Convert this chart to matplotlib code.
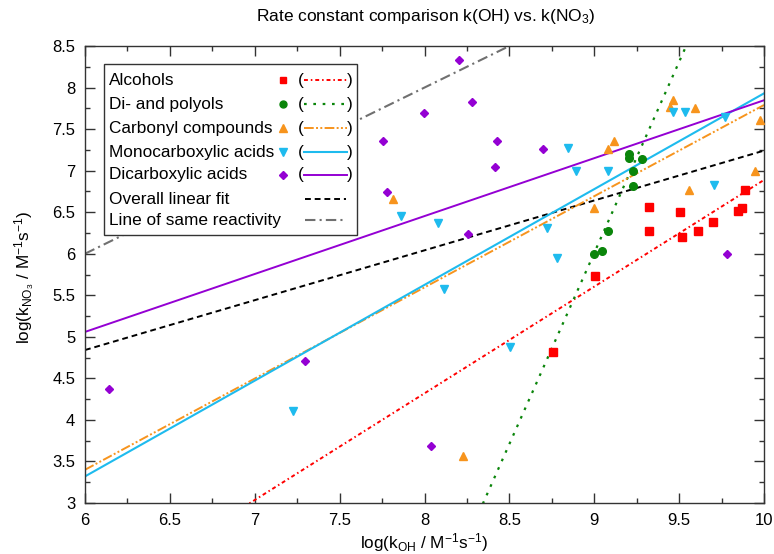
import numpy as np
import matplotlib
matplotlib.use('Agg')
import matplotlib.pyplot as plt
from matplotlib.lines import Line2D
from matplotlib.patches import Rectangle

plt.rcParams['font.family'] = ['Liberation Sans', 'DejaVu Sans']
plt.rcParams['mathtext.default'] = 'regular'
plt.rcParams['font.size'] = 12

# data: log10 k(OH) vs log10 k(NO3)
alc_x = [8.755, 9.004, 9.322, 9.322, 9.505, 9.517, 9.611, 9.700, 9.847, 9.870, 9.888]
alc_y = [4.814, 5.732, 6.563, 6.274, 6.502, 6.202, 6.274, 6.382, 6.514, 6.550, 6.767]

pol_x = [9.000, 9.044, 9.079, 9.230, 9.230, 9.205, 9.205, 9.280]
pol_y = [5.997, 6.037, 6.274, 6.819, 6.996, 7.156, 7.197, 7.137]

car_x = [8.229, 7.816, 9.000, 9.079, 9.115, 9.448, 9.462, 9.592, 9.556, 9.949, 9.976]
car_y = [3.570, 6.659, 6.554, 7.261, 7.353, 7.770, 7.850, 7.758, 6.767, 6.996, 7.610]

mono_x = [7.227, 7.862, 8.078, 8.117, 8.504, 8.720, 8.779, 8.845, 8.891, 9.079,
          9.462, 9.533, 9.707, 9.770]
mono_y = [4.108, 6.458, 6.370, 5.572, 4.874, 6.314, 5.952, 7.273, 6.996, 6.996,
          7.702, 7.702, 6.831, 7.642]

dic_x = [6.143, 7.296, 7.754, 7.777, 7.999, 8.038, 8.201, 8.254, 8.278, 8.414,
         8.425, 8.700, 9.780]
dic_y = [4.376, 4.710, 7.360, 6.747, 7.690, 3.690, 8.332, 6.234, 7.830, 7.040,
         7.360, 7.257, 5.997]

# linear fits (slope, intercept)
fit_slope = {'alc': 1.284, 'pol': 4.60, 'car': 1.0975, 'mono': 1.1525, 'dic': 0.697,
             'all': 0.600, 'same': 1.0}
fit_icept = {'alc': -5.952, 'pol': -35.39, 'car': -3.185, 'mono': -3.595, 'dic': 0.877,
             'all': 1.241, 'same': 0.0}

labels = ['Alcohols', 'Di- and polyols', 'Carbonyl compounds', 'Monocarboxylic acids',
          'Dicarboxylic acids', 'Overall linear fit', 'Line of same reactivity']

red = '#ff0000'
green = '#0a850a'
orange = '#f7941d'
cyan = '#1ebbee'
purple = '#9400d3'
gray = '#707070'

styles = {
    'alc': dict(color=red, ls=(0, (2, 1.5, 0.8, 1.5)), lw=1.4),
    'pol': dict(color=green, ls=(0, (1.2, 3)), lw=1.6),
    'car': dict(color=orange, ls=(0, (5, 1.2, 1, 1.2, 1, 1.2)), lw=1.4),
    'mono': dict(color=cyan, ls='-', lw=1.5),
    'dic': dict(color=purple, ls='-', lw=1.4),
    'all': dict(color='black', ls=(0, (3, 2)), lw=1.4),
    'same': dict(color=gray, ls=(0, (5, 2, 1, 2)), lw=1.5),
}

W, H = 774, 554
fig = plt.figure(figsize=(W / 100, H / 100), dpi=100)
ax = fig.add_axes([85 / W, 1 - 503 / H, 679 / W, 457 / H])

xx = np.linspace(6, 10, 400)
for key in ['same', 'all', 'alc', 'pol', 'car', 'mono', 'dic']:
    ax.plot(xx, fit_slope[key] * xx + fit_icept[key], **styles[key], zorder=2)

ax.plot(alc_x, alc_y, 's', color=red, ms=5.5, ls='none', zorder=3)
ax.plot(pol_x, pol_y, 'o', color=green, ms=5.5, ls='none', zorder=3)
ax.plot(car_x, car_y, '^', color=orange, ms=6, ls='none', zorder=3)
ax.plot(mono_x, mono_y, 'v', color=cyan, ms=6, ls='none', zorder=3)
ax.plot(dic_x, dic_y, 'D', color=purple, ms=4.2, ls='none', zorder=3)

ax.set_xlim(6, 10)
ax.set_ylim(3, 8.5)
ax.set_xticks(np.arange(6, 10.01, 0.5))
ax.set_yticks(np.arange(3, 8.51, 0.5))
ax.set_xticklabels(['6', '6.5', '7', '7.5', '8', '8.5', '9', '9.5', '10'])
ax.set_yticklabels(['3', '3.5', '4', '4.5', '5', '5.5', '6', '6.5', '7', '7.5', '8', '8.5'])
ax.set_xticks(np.arange(6, 10.01, 0.25), minor=True)
ax.set_yticks(np.arange(3, 8.51, 0.25), minor=True)
ax.tick_params(which='both', direction='in', top=True, right=True, color='#333333')
ax.tick_params(which='major', length=7, width=1, pad=7, labelsize=12)
ax.tick_params(which='minor', length=3.5, width=1)
for s in ax.spines.values():
    s.set_color('#333333')
    s.set_linewidth(1)

fig.text(426 / W, 1 - 17 / H, 'Rate constant comparison k(OH) vs. k(NO$_3$)',
         ha='center', va='center', fontsize=12.5)
fig.text(424.5 / W, 1 - 543 / H, 'log(k$_{OH}$ / M$^{-1}$s$^{-1}$)',
         ha='center', va='center', fontsize=12.3)
fig.text(25 / W, 1 - 277 / H, 'log(k$_{NO_3}$ / M$^{-1}$s$^{-1}$)',
         ha='center', va='center', rotation=90, fontsize=12.3)


# legend drawn by hand in pixel positions (gnuplot style)
def ax_pt(px, py):
    return ((px - 85) / 679, (503 - py) / 457)

t = ax.transAxes
x0, y0 = ax_pt(104, 235)
x1, y1 = ax_pt(357, 64)
ax.add_patch(Rectangle((x0, y0), x1 - x0, y1 - y0, transform=t, facecolor='white',
                       edgecolor='#333333', lw=1, zorder=5))
rows_y = [80, 104, 128, 152, 175, 199, 220]
keys = ['alc', 'pol', 'car', 'mono', 'dic', 'all', 'same']
marks = [('s', red, 5), ('o', green, 5), ('^', orange, 5.5), ('v', cyan, 5.5), ('D', purple, 4)]
for i, (lab, key, py) in enumerate(zip(labels, keys, rows_y)):
    tx, ty = ax_pt(109, py)
    ax.text(tx, ty, lab, transform=t, ha='left', va='center', fontsize=12.4, zorder=6)
    if i < 5:
        m, c, ms = marks[i]
        mx, my = ax_pt(283, py)
        ax.add_line(Line2D([mx], [my], marker=m, color=c, ms=ms, ls='none',
                           transform=t, zorder=6))
        px_, py_ = ax_pt(301, py)
        ax.text(px_, py_, '(', transform=t, ha='center', va='center', fontsize=12.4, zorder=6)
        px_, py_ = ax_pt(350, py)
        ax.text(px_, py_, ')', transform=t, ha='center', va='center', fontsize=12.4, zorder=6)
        la, lb = ax_pt(304, py), ax_pt(347, py)
    else:
        la, lb = ax_pt(305, py), ax_pt(346, py)
    ax.add_line(Line2D([la[0], lb[0]], [la[1], lb[1]], transform=t, zorder=6, **styles[key]))

fig.savefig('out.png', dpi=100)
